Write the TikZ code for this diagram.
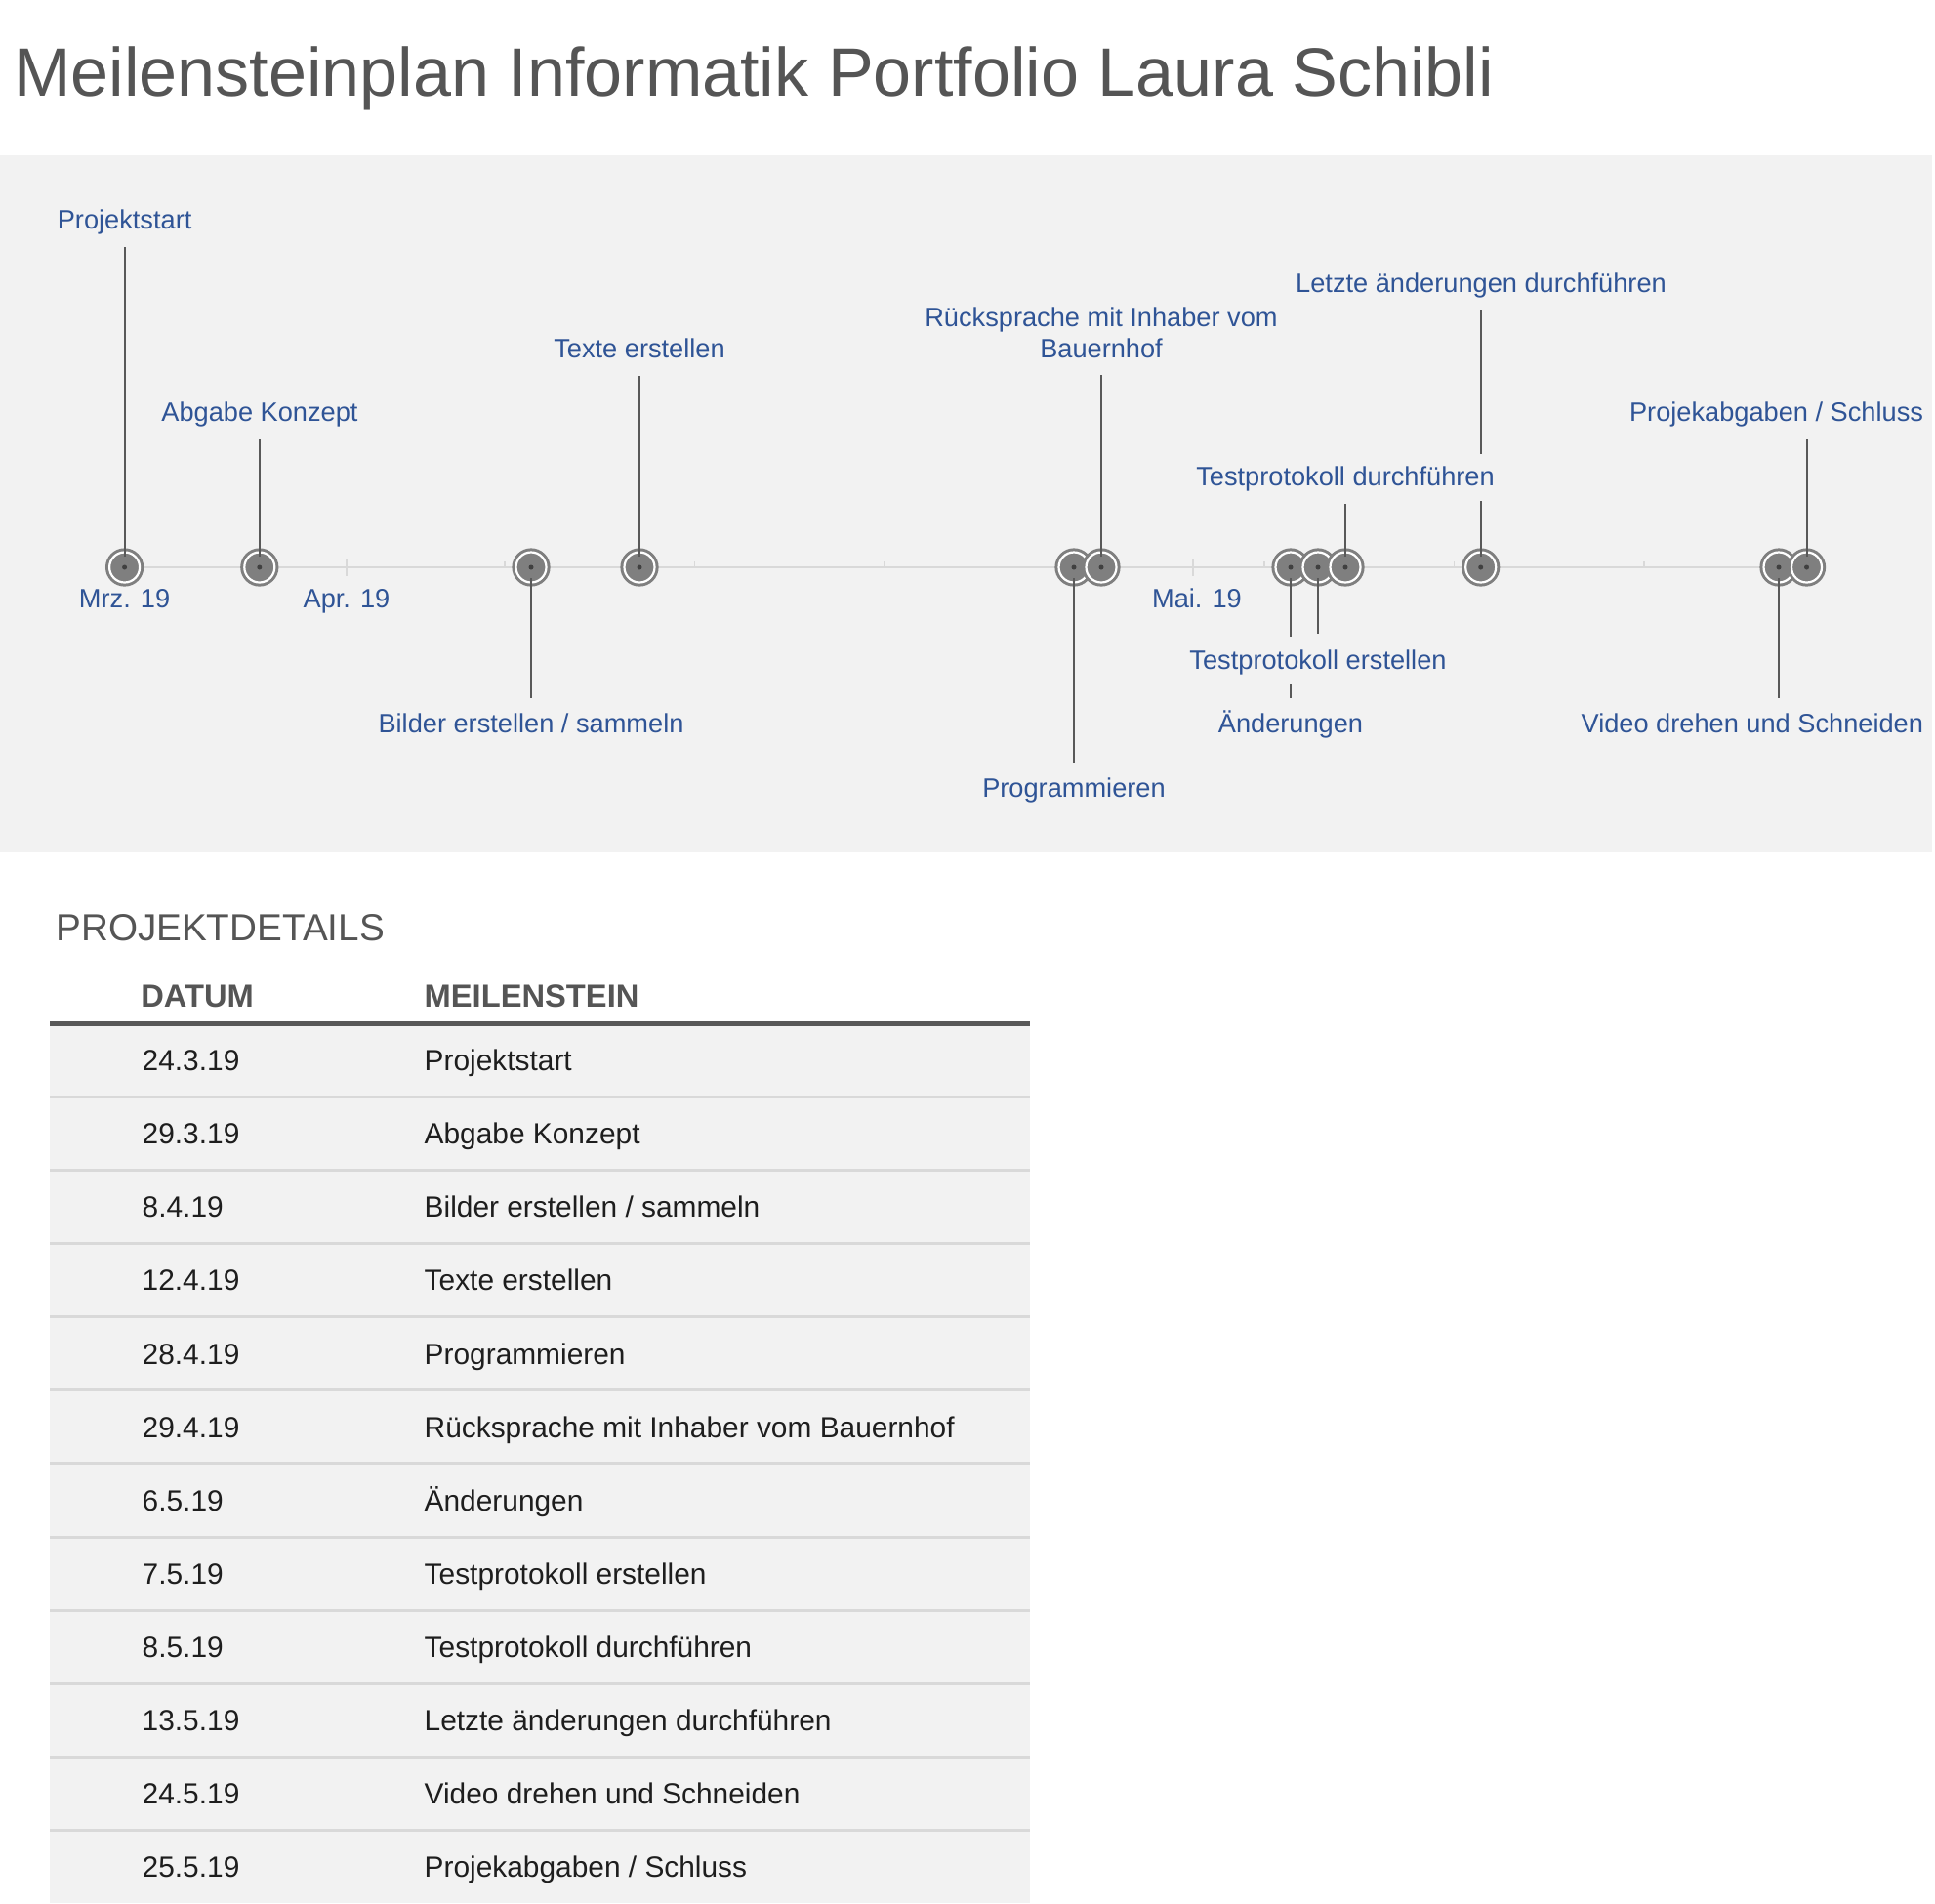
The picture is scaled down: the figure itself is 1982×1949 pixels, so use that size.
\documentclass[tikz,border=0pt]{standalone}
\usepackage{fontspec}
\setmainfont{Liberation Sans}
\usepackage{xcolor}
\usepackage{tikz}
\definecolor{titleGray}{RGB}{85,85,85}
\definecolor{bandGray}{RGB}{242,242,242}
\definecolor{ruleGray}{RGB}{217,217,217}
\definecolor{stemGray}{RGB}{89,89,89}
\definecolor{ringGray}{RGB}{127,127,127}
\definecolor{dotGray}{RGB}{64,64,64}
\definecolor{labelBlue}{RGB}{47,84,150}
\definecolor{cellBlack}{RGB}{30,30,30}
\pgfdeclarelayer{band}
\pgfdeclarelayer{stems}
\pgfdeclarelayer{labels}
\pgfsetlayers{band,main,stems,labels}

\begin{document}
\begin{tikzpicture}[
    x=0.1mm, y=-0.1mm,
    mstone/.style={circle, inner sep=0pt, minimum size=3.1mm, fill=ringGray, draw=ringGray, line width=0.3mm, double=white, double distance=0.22mm},
    lab/.style={font=\fontsize{7.74}{9.1}\selectfont, text=labelBlue, fill=bandGray, inner xsep=0.5mm, inner ysep=1mm, outer sep=0.3mm, text height=2.3mm, text depth=0.57mm},
    month/.style={font=\fontsize{7.74}{9.1}\selectfont, text=labelBlue, inner sep=0pt, anchor=base},
    stem/.style={draw=stemGray, line width=0.2mm, shorten <=1.1mm},
    tick/.style={draw=ruleGray, line width=0.18mm},
    cell/.style={font=\fontsize{8.5}{10}\selectfont, text=cellBlack, inner sep=0pt, anchor=base west},
    head/.style={font=\fontsize{9.3}{11}\selectfont\bfseries, text=titleGray, inner sep=0pt, anchor=base west}
]
\useasboundingbox (0,0) rectangle (1982,1949);

% Title
\node[font=\fontsize{19.95}{24}\selectfont, text=titleGray, inner sep=0pt, anchor=base west] (title) at (13.5,98.3) {Meilensteinplan Informatik Portfolio Laura Schibli};

% Milestone markers, one per date
\foreach \x [count=\i] in {127.6,265.8,544,655,1100,1128,1322,1350,1378,1516.7,1822,1850.5}
  \node[mstone] (m\i) at (\x,581) {};
\foreach \i in {1,...,12}
  \fill[dotGray] (m\i) circle (0.25mm);

% Band, axis and ticks
\begin{pgfonlayer}{band}
\fill[bandGray] (0,159) rectangle (1979,873);
\draw[ruleGray, line width=0.25mm] (m1) -- (m12);
\foreach \x in {355,1222}
  \draw[tick] (\x,573) -- (\x,590);
\foreach \k in {0,...,6}
  \draw[tick] (517+194.5*\k,575) -- (517+194.5*\k,581);
\end{pgfonlayer}

% Month labels
\node[month] (mrz) at (127.6,622.5) {Mrz. 19};
\node[month] (apr) at (355,622.5) {Apr. 19};
\node[month] (mai) at (1226,622.5) {Mai. 19};

% Milestone labels
\begin{pgfonlayer}{labels}
\node[lab, anchor=base] (l1) at (127.6,234.5) {Projektstart};
\node[lab, anchor=base] (l2) at (266,431.5) {Abgabe Konzept};
\node[lab, anchor=base] (l3) at (544,750.5) {Bilder erstellen / sammeln};
\node[lab, anchor=base] (l4) at (655,366.5) {Texte erstellen};
\node[lab, anchor=base] (l5) at (1100,816.5) {Programmieren};
\node[lab, anchor=south, align=center, text height={}, text depth={}, outer ysep=0.75mm] (l6) at (1128,384) {Rücksprache mit Inhaber vom\\Bauernhof};
\node[lab, anchor=base] (l7) at (1322,750.5) {Änderungen};
\node[lab, anchor=base] (l8) at (1350,685) {Testprotokoll erstellen};
\node[lab, anchor=base] (l9) at (1378,497.5) {Testprotokoll durchführen};
\node[lab, anchor=base] (l10) at (1517,299.5) {Letzte änderungen durchführen};
\node[lab, anchor=base east] (l11) at (1978,750.5) {Video drehen und Schneiden};
\node[lab, anchor=base east] (l12) at (1978,431.5) {Projekabgaben / Schluss};
\end{pgfonlayer}

% Stems from marker to label
\begin{pgfonlayer}{stems}
\foreach \i in {1,2,4,6,9,10,12}
  \draw[stem] (m\i.center) -- (m\i |- l\i.south);
\foreach \i in {3,5,7,8,11}
  \draw[stem] (m\i.center) -- (m\i |- l\i.north);
\end{pgfonlayer}

% Project details table
\node[font=\fontsize{11}{13}\selectfont, text=titleGray, inner sep=0pt, anchor=base west] (details) at (56.6,963.3) {PROJEKTDETAILS};
\node[head] (hdate) at (143.6,1031.7) {DATUM};
\node[head] (hstone) at (434,1031.7) {MEILENSTEIN};
\fill[bandGray] (51,1050) rectangle (1055,1949);
\draw[stemGray, line width=0.5mm] (51,1048) -- (1055,1048);
\foreach \k in {0,...,10}
  \draw[ruleGray, line width=0.3mm] (51,1123.5+75.08*\k) -- (1055,1123.5+75.08*\k);
\foreach \d/\t [count=\i from 0] in {24.3.19/Projektstart, 29.3.19/Abgabe Konzept, 8.4.19/{Bilder erstellen / sammeln}, 12.4.19/Texte erstellen, 28.4.19/Programmieren, 29.4.19/Rücksprache mit Inhaber vom Bauernhof, 6.5.19/Änderungen, 7.5.19/Testprotokoll erstellen, 8.5.19/Testprotokoll durchführen, 13.5.19/Letzte änderungen durchführen, 24.5.19/Video drehen und Schneiden, 25.5.19/{Projekabgaben / Schluss}}{
  \node[cell] (date\i) at (145,1096.7+75.08*\i) {\d};
  \node[cell] (stone\i) at (434,1096.7+75.08*\i) {\t};
}

\end{tikzpicture}
\end{document}
